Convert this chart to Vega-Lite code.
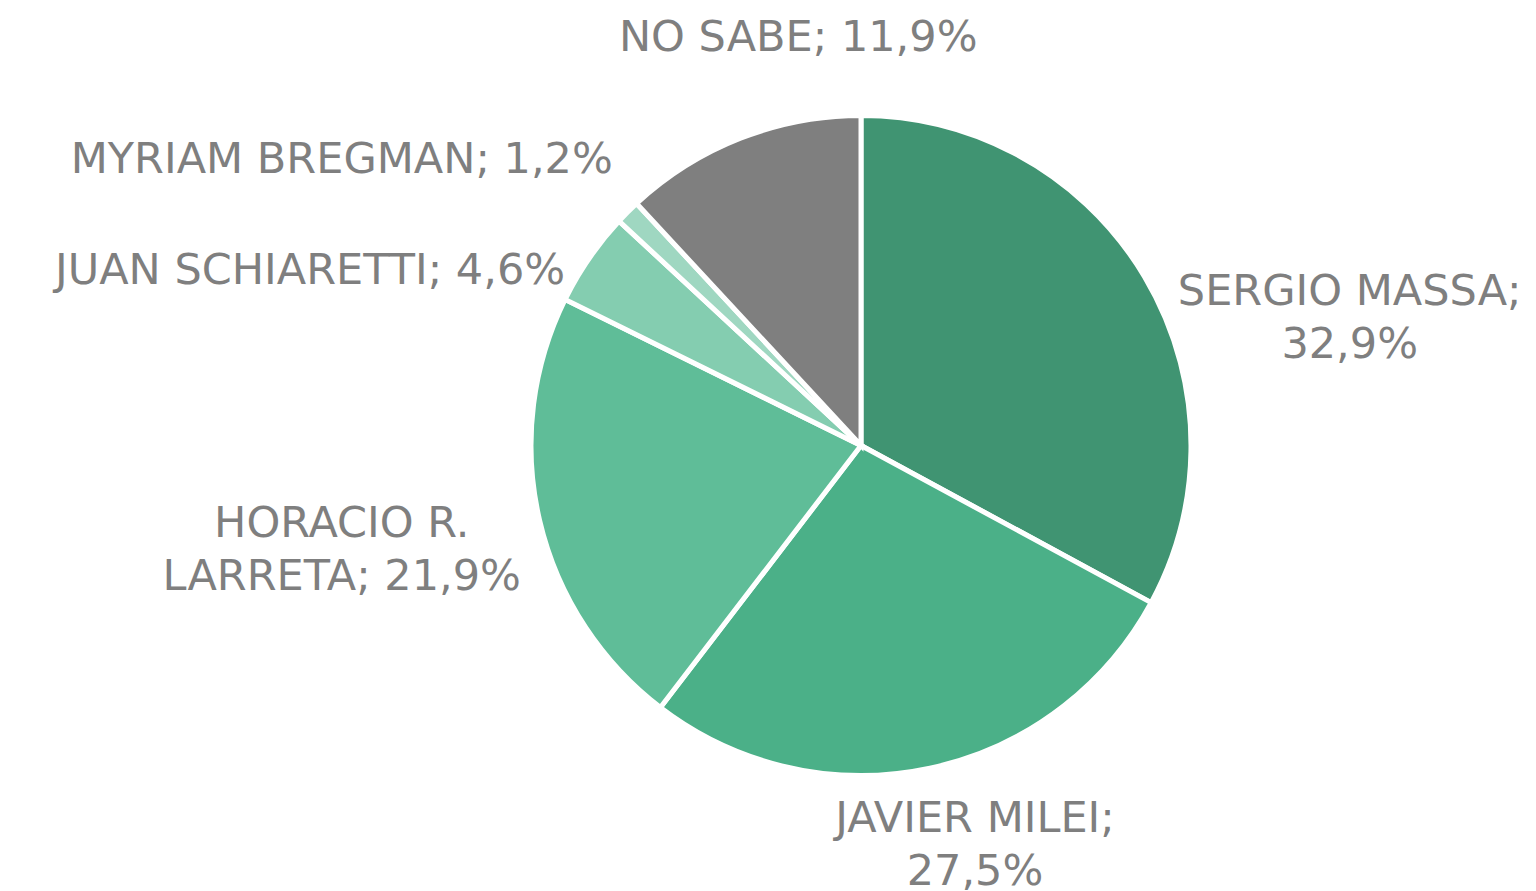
{
  "$schema": "https://vega.github.io/schema/vega-lite/v6.json",
  "width": 1350,
  "height": 891,
  "autosize": {"type": "none"},
  "padding": {"left": 186, "top": 0, "right": 0, "bottom": 0},
  "background": "white",
  "config": {"view": {"stroke": null}},
  "data": {
    "values": [
      {"cand": "SERGIO MASSA", "orden": 1, "pct": 32.9, "label": "SERGIO MASSA;\n32,9%"},
      {"cand": "JAVIER MILEI", "orden": 2, "pct": 27.5, "label": "JAVIER MILEI;\n27,5%"},
      {"cand": "HORACIO R. LARRETA", "orden": 3, "pct": 21.9, "label": "HORACIO R.\nLARRETA; 21,9%"},
      {"cand": "JUAN SCHIARETTI", "orden": 4, "pct": 4.6, "label": "JUAN SCHIARETTI; 4,6%"},
      {"cand": "MYRIAM BREGMAN", "orden": 5, "pct": 1.2, "label": "MYRIAM BREGMAN; 1,2%"},
      {"cand": "NO SABE", "orden": 6, "pct": 11.9, "label": "NO SABE; 11,9%"}
    ]
  },
  "encoding": {
    "theta": {"field": "pct", "type": "quantitative", "stack": true},
    "order": {"field": "orden", "type": "quantitative"},
    "detail": {"field": "cand", "type": "nominal"}
  },
  "layer": [
    {
      "mark": {"type": "arc", "outerRadius": 330, "stroke": "white", "strokeWidth": 5},
      "encoding": {
        "color": {
          "field": "cand",
          "type": "nominal",
          "scale": {
            "domain": ["SERGIO MASSA", "JAVIER MILEI", "HORACIO R. LARRETA", "JUAN SCHIARETTI", "MYRIAM BREGMAN", "NO SABE"],
            "range": ["#409472", "#4bb088", "#5fbd98", "#84cdb0", "#9fd7c1", "#7f7f7f"]
          },
          "legend": null
        }
      }
    },
    {
      "mark": {"type": "text", "radius": 492, "dx": 66, "dy": 111, "align": "center", "baseline": "alphabetic", "lineBreak": "\n", "lineHeight": 53, "font": "DejaVu Sans", "fontSize": 43, "fill": "#7f7f7f"},
      "encoding": {"text": {"condition": {"test": "datum.cand === 'SERGIO MASSA'", "field": "label"}, "value": ""}}
    },
    {
      "mark": {"type": "text", "radius": 402, "dx": 30, "dy": -7, "align": "center", "baseline": "alphabetic", "lineBreak": "\n", "lineHeight": 53, "font": "DejaVu Sans", "fontSize": 43, "fill": "#7f7f7f"},
      "encoding": {"text": {"condition": {"test": "datum.cand === 'JAVIER MILEI'", "field": "label"}, "value": ""}}
    },
    {
      "mark": {"type": "text", "radius": 485, "dx": -47, "dy": -19, "align": "center", "baseline": "alphabetic", "lineBreak": "\n", "lineHeight": 53, "font": "DejaVu Sans", "fontSize": 43, "fill": "#7f7f7f"},
      "encoding": {"text": {"condition": {"test": "datum.cand === 'HORACIO R. LARRETA'", "field": "label"}, "value": ""}}
    },
    {
      "mark": {"type": "text", "radius": 335, "dx": -20, "dy": 29, "align": "right", "baseline": "alphabetic", "lineBreak": "\n", "lineHeight": 53, "font": "DejaVu Sans", "fontSize": 43, "fill": "#7f7f7f"},
      "encoding": {"text": {"condition": {"test": "datum.cand === 'JUAN SCHIARETTI'", "field": "label"}, "value": ""}}
    },
    {
      "mark": {"type": "text", "radius": 368, "dx": 12, "dy": -12, "align": "right", "baseline": "alphabetic", "lineBreak": "\n", "lineHeight": 53, "font": "DejaVu Sans", "fontSize": 43, "fill": "#7f7f7f"},
      "encoding": {"text": {"condition": {"test": "datum.cand === 'MYRIAM BREGMAN'", "field": "label"}, "value": ""}}
    },
    {
      "mark": {"type": "text", "radius": 391, "dx": 80, "dy": -31, "align": "center", "baseline": "alphabetic", "lineBreak": "\n", "lineHeight": 53, "font": "DejaVu Sans", "fontSize": 43, "fill": "#7f7f7f"},
      "encoding": {"text": {"condition": {"test": "datum.cand === 'NO SABE'", "field": "label"}, "value": ""}}
    }
  ]
}
